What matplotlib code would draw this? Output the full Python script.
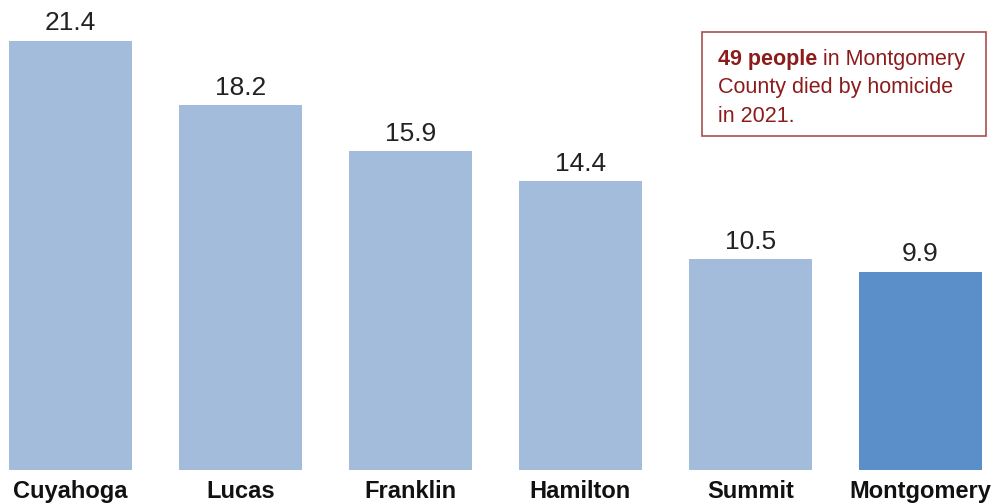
import matplotlib.pyplot as plt
from matplotlib.patches import Rectangle

counties = ["Cuyahoga", "Lucas", "Franklin", "Hamilton", "Summit", "Montgomery"]
rates = [21.4, 18.2, 15.9, 14.4, 10.5, 9.9]
highlight = "Montgomery"

LIGHT = "#a4bcdb"
DARK = "#5b8fc9"
RED = "#8c1c1c"

W, H = 995, 504
fig = plt.figure(figsize=(W / 100, H / 100), dpi=100)

# axes spans the full width; bars sit on a baseline 34 px above the bottom
ax = fig.add_axes([0, 34 / H, 1, 470 / H])
ax.set_xlim(-70.5 / 170, (W - 70.5) / 170)
ax.set_ylim(0, 470 / 20.05)
ax.axis("off")

x = range(len(counties))
colors = [DARK if c == highlight else LIGHT for c in counties]
bars = ax.bar(x, rates, width=123 / 170, color=colors)

for b, v in zip(bars, rates):
    ax.annotate(f"{v:.1f}", (b.get_x() + b.get_width() / 2, v),
                xytext=(0, 4), textcoords="offset points",
                ha="center", va="bottom", fontsize=19,
                color="#222222", family="Liberation Sans")

for i, c in enumerate(counties):
    ax.annotate(c, (i, 0), xytext=(0, -7), textcoords="offset points",
                ha="center", va="top", fontsize=17, fontweight="bold",
                color="#111111", family="Liberation Sans")

# callout box
fig.add_artist(Rectangle((702 / W, 1 - 136 / H), 284 / W, 104 / H,
                         transform=fig.transFigure, fill=False,
                         edgecolor="#a8504e", linewidth=1.2))

tx = 718 / W
fs = 15.5
t1 = fig.text(tx, 1 - 65 / H, "49 people", fontsize=fs, fontweight="bold",
              color=RED, va="baseline", family="Liberation Sans")
ax.annotate(" in Montgomery", xy=(1, 0), xycoords=t1, va="bottom", ha="left",
            fontsize=fs, color=RED, family="Liberation Sans",
            annotation_clip=False)
fig.text(tx, 1 - 93 / H, "County died by homicide", fontsize=fs,
         color=RED, va="baseline", family="Liberation Sans")
fig.text(tx, 1 - 122 / H, "in 2021.", fontsize=fs,
         color=RED, va="baseline", family="Liberation Sans")

fig.savefig("out.png", dpi=100)
